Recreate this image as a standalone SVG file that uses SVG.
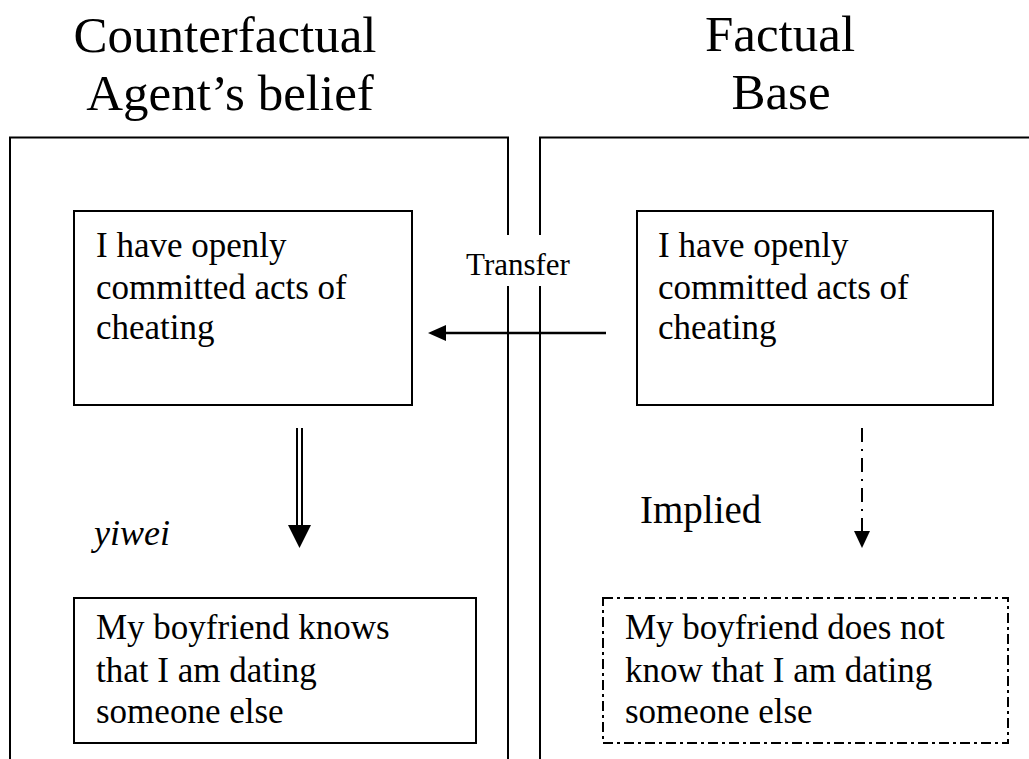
<svg xmlns="http://www.w3.org/2000/svg" width="1029" height="759" viewBox="0 0 1029 759" font-family="'Liberation Serif', 'Times New Roman', serif">
  <style>
    text { font-family: "Liberation Serif", "Times New Roman", serif; fill: #000; }
    .frame { fill: none; stroke: #000; stroke-width: 2; }
    .box { fill: #fff; stroke: #000; stroke-width: 2; }
    .dashbox { fill: #fff; stroke: #000; stroke-width: 2; stroke-dasharray: 10 4 3 4; }
    .head { font-size: 51px; text-anchor: middle; }
    .body { font-size: 35px; }
    .conn { fill: none; stroke: #000; stroke-width: 2.5; }
    .head-fill { fill: #000; stroke: none; }
  </style>
  <rect width="1029" height="759" fill="#fff"/>

  <!-- column headings -->
  <g id="heading-counterfactual">
    <text class="head" x="225" y="52">Counterfactual</text>
    <text class="head" x="230" y="110">Agent’s belief</text>
  </g>
  <g id="heading-factual">
    <text class="head" x="780" y="51">Factual</text>
    <text class="head" x="781" y="109">Base</text>
  </g>

  <!-- the two panels; their inner edges break around the Transfer label -->
  <g id="panel-counterfactual">
    <path class="frame" d="M10,759 V137.5 H508 V235 M508,286 V759"/>
  </g>
  <g id="panel-factual">
    <path class="frame" d="M540,235 V137.5 H1029 M540,286 V759"/>
  </g>

  <!-- statements -->
  <g id="cf-premise">
    <rect class="box" x="74" y="211" width="338" height="194"/>
    <text class="body" x="96" y="257">I have openly</text>
    <text class="body" x="96" y="299">committed acts of</text>
    <text class="body" x="96" y="339">cheating</text>
  </g>
  <g id="f-premise">
    <rect class="box" x="637" y="211" width="356" height="194"/>
    <text class="body" x="658" y="257">I have openly</text>
    <text class="body" x="658" y="299">committed acts of</text>
    <text class="body" x="658" y="339">cheating</text>
  </g>
  <g id="cf-conclusion">
    <rect class="box" x="74" y="598" width="402" height="145"/>
    <text class="body" x="96" y="639">My boyfriend knows</text>
    <text class="body" x="96" y="682">that I am dating</text>
    <text class="body" x="96" y="723">someone else</text>
  </g>
  <g id="f-conclusion">
    <rect class="dashbox" x="603" y="598" width="405" height="145"/>
    <text class="body" x="625" y="639">My boyfriend does not</text>
    <text class="body" x="625" y="682">know that I am dating</text>
    <text class="body" x="625" y="723">someone else</text>
  </g>

  <!-- connectors -->
  <g id="connectors">
    <!-- transfer from factual premise to counterfactual premise -->
    <line class="conn" x1="606" y1="333" x2="444" y2="333"/>
    <path class="head-fill" d="M428,333 L446,325 L446,341 z"/>
    <text x="518" y="275" font-size="31" text-anchor="middle">Transfer</text>

    <!-- yiwei: double-shafted arrow -->
    <line x1="297" y1="428" x2="297" y2="526" stroke="#000" stroke-width="2"/>
    <line x1="302" y1="428" x2="302" y2="526" stroke="#000" stroke-width="2"/>
    <path class="head-fill" d="M288,525 L311,525 L299.5,548 z"/>
    <text x="94" y="545" font-size="36" font-style="italic">yiwei</text>

    <!-- implied: dash-dot arrow -->
    <line x1="862" y1="428" x2="862" y2="532" stroke="#000" stroke-width="2" stroke-dasharray="14 7 2 7"/>
    <path class="head-fill" d="M854,531 L870,531 L862,548 z"/>
    <text x="640" y="523" font-size="39">Implied</text>
  </g>
</svg>
